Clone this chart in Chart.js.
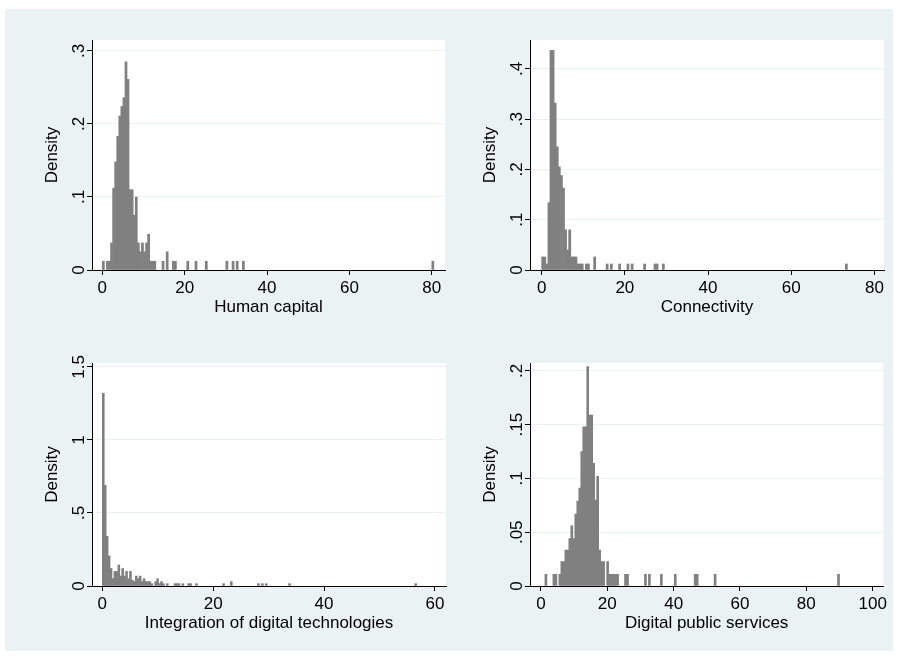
<!DOCTYPE html>
<html>
<head>
<meta charset="utf-8">
<script src="https://cdn.jsdelivr.net/npm/chart.js@4.4.0/dist/chart.umd.min.js"></script>
<style>
  body { margin: 0; background: #fff; }
  #frame { position: absolute; left: 5px; top: 9px; width: 888px; height: 642px; background: #eaf2f3; }
  canvas { position: absolute; }
</style>
</head>
<body>
<div id="frame"></div>
<canvas id="c1"></canvas>
<canvas id="c2"></canvas>
<canvas id="c3"></canvas>
<canvas id="c4"></canvas>
<script>
// Human capital (bin centers / density)
const humanCapitalBins = [0.25, 1.25, 1.75, 2.25, 2.75, 3.25, 3.75, 4.25, 4.75, 5.25,
  5.75, 6.25, 6.75, 7.25, 7.75, 8.25, 8.75, 9.25, 9.75, 10.25,
  10.75, 11.25, 11.75, 12.25, 12.75, 14.75, 15.75, 17.25, 17.75, 20.75,
  22.75, 25.25, 30.25, 31.75, 32.75, 34.25, 80.25];
const humanCapitalDensity = [0.012, 0.012, 0.012, 0.037, 0.112, 0.148, 0.183, 0.211, 0.224, 0.236,
  0.285, 0.261, 0.110, 0.110, 0.075, 0.100, 0.037, 0.025, 0.037, 0.025,
  0.037, 0.049, 0.012, 0.012, 0.012, 0.012, 0.025, 0.012, 0.012, 0.012,
  0.012, 0.012, 0.012, 0.012, 0.012, 0.012, 0.012];

// Connectivity
const connectivityBins = [0.25, 0.75, 1.25, 1.75, 2.25, 2.75, 3.25, 3.75, 4.25, 4.75,
  5.25, 5.75, 6.25, 6.75, 7.25, 7.75, 8.25, 8.75, 9.25, 9.75,
  10.75, 11.25, 12.75, 15.75, 16.75, 18.75, 20.75, 21.75, 24.75, 27.25,
  27.75, 29.25, 73.25];
const connectivityDensity = [0.026, 0.026, 0.012, 0.134, 0.437, 0.437, 0.332, 0.245, 0.205, 0.188,
  0.163, 0.080, 0.040, 0.080, 0.026, 0.026, 0.026, 0.012, 0.012, 0.012,
  0.012, 0.012, 0.026, 0.012, 0.012, 0.012, 0.012, 0.012, 0.012, 0.012,
  0.012, 0.012, 0.012];

// Integration of digital technologies
const integrationBins = [0.175, 0.525, 0.875, 1.225, 1.575, 1.925, 2.275, 2.625, 2.975, 3.325,
  3.675, 4.025, 4.375, 4.725, 5.075, 5.425, 5.775, 6.125, 6.475, 6.825,
  7.175, 7.525, 7.875, 8.225, 8.575, 8.925, 9.625, 9.975, 10.325, 10.675,
  11.025, 11.725, 13.125, 13.475, 13.825, 14.525, 15.575, 15.925, 16.975, 21.875,
  23.275, 28.175, 28.875, 29.575, 33.775, 56.525];
const integrationDensity = [1.32, 0.69, 0.34, 0.206, 0.12, 0.05, 0.1, 0.1, 0.144, 0.068,
  0.12, 0.068, 0.1, 0.05, 0.1, 0.04, 0.03, 0.068, 0.05, 0.068,
  0.03, 0.05, 0.03, 0.03, 0.03, 0.016, 0.03, 0.05, 0.016, 0.03,
  0.016, 0.016, 0.016, 0.016, 0.016, 0.016, 0.016, 0.016, 0.016, 0.016,
  0.03, 0.016, 0.016, 0.016, 0.016, 0.016];

// Digital public services
const publicServicesBins = [1.5, 3.9, 4.5, 5.7, 6.3, 6.9, 7.5, 8.1, 8.7, 9.3,
  9.9, 10.5, 11.1, 11.7, 12.3, 12.9, 13.5, 14.1, 14.7, 15.3,
  15.9, 16.5, 17.1, 17.7, 18.3, 18.9, 20.1, 20.7, 21.3, 21.9,
  22.5, 23.1, 25.5, 26.1, 31.5, 32.7, 36.3, 40.5, 46.5, 47.1,
  52.5, 89.7];
const publicServicesDensity = [0.0108, 0.0108, 0.0108, 0.0108, 0.0226, 0.0226, 0.0335, 0.0335, 0.044, 0.056,
  0.044, 0.067, 0.079, 0.091, 0.125, 0.148, 0.148, 0.204, 0.159, 0.159,
  0.114, 0.080, 0.102, 0.0335, 0.0226, 0.0226, 0.0226, 0.0108, 0.0108, 0.0108,
  0.0108, 0.0108, 0.0108, 0.0108, 0.0108, 0.0108, 0.0108, 0.0108, 0.0108, 0.0108,
  0.0108, 0.0108];

// tick values and labels
const humanCapitalTicksX = [0, 20, 40, 60, 80];
const humanCapitalTicksY = [0, 0.1, 0.2, 0.3];
const humanCapitalLabelsY = ['0', '.1', '.2', '.3'];
const connectivityTicksX = [0, 20, 40, 60, 80];
const connectivityTicksY = [0, 0.1, 0.2, 0.3, 0.4];
const connectivityLabelsY = ['0', '.1', '.2', '.3', '.4'];
const integrationTicksX = [0, 20, 40, 60];
const integrationTicksY = [0, 0.5, 1, 1.5];
const integrationLabelsY = ['0', '.5', '1', '1.5'];
const publicServicesTicksX = [0, 20, 40, 60, 80, 100];
const publicServicesTicksY = [0, 0.05, 0.1, 0.15, 0.2];
const publicServicesLabelsY = ['0', '.05', '.1', '.15', '.2'];

const FONT = '"Liberation Sans", Arial, sans-serif';
const BAR = '#808080';
const GRID = '#eaf2f3';

// plot rectangles [left, top, right, bottom] and axis ranges
const panels = [
  { id: 'c1', xTitle: 'Human capital', bins: humanCapitalBins, dens: humanCapitalDensity,
    ticksX: humanCapitalTicksX, ticksY: humanCapitalTicksY, labelsY: humanCapitalLabelsY,
    xMin: -2.5, xMax: 83.2, yMax: 0.315, plot: [92, 40, 445, 270] },
  { id: 'c2', xTitle: 'Connectivity', bins: connectivityBins, dens: connectivityDensity,
    ticksX: connectivityTicksX, ticksY: connectivityTicksY, labelsY: connectivityLabelsY,
    xMin: -2.8, xMax: 82.3, yMax: 0.4577, plot: [530, 40, 884, 270] },
  { id: 'c3', xTitle: 'Integration of digital technologies', bins: integrationBins, dens: integrationDensity,
    ticksX: integrationTicksX, ticksY: integrationTicksY, labelsY: integrationLabelsY,
    xMin: -1.86, xMax: 62.0, yMax: 1.527, plot: [92, 363, 446, 586] },
  { id: 'c4', xTitle: 'Digital public services', bins: publicServicesBins, dens: publicServicesDensity,
    ticksX: publicServicesTicksX, ticksY: publicServicesTicksY, labelsY: publicServicesLabelsY,
    xMin: -3.3, xMax: 103.2, yMax: 0.2074, plot: [530, 363, 885, 586] }
];

const Y_AXIS_W = 50, X_AXIS_H = 48, PAD_L = 32, PAD_T = 20, PAD_R = 5, PAD_B = 3;

// white plot region behind the bars
const plotBgPlugin = {
  id: 'plotBg',
  beforeDraw(chart) {
    const { ctx, chartArea: a } = chart;
    ctx.save();
    ctx.fillStyle = '#fff';
    ctx.fillRect(a.left, a.top, a.right - a.left, a.bottom - a.top);
    ctx.restore();
  }
};

// rotated y tick labels, Stata style
const yLabelPlugin = {
  id: 'yLabels',
  afterDraw(chart, args, opts) {
    const ctx = chart.ctx;
    const y = chart.scales.y;
    const left = chart.chartArea.left;
    ctx.save();
    ctx.font = '17px ' + FONT;
    ctx.fillStyle = '#000';
    ctx.textAlign = 'center';
    ctx.textBaseline = 'alphabetic';
    opts.values.forEach((v, i) => {
      ctx.save();
      ctx.translate(left - 8, y.getPixelForValue(v));
      ctx.rotate(-Math.PI / 2);
      ctx.fillText(opts.labels[i], 0, 0);
      ctx.restore();
    });
    ctx.restore();
  }
};

panels.forEach(p => {
  const [L, T, R, B] = p.plot;
  const canvas = document.getElementById(p.id);
  canvas.width = R - L + Y_AXIS_W + PAD_L + PAD_R;
  canvas.height = B - T + PAD_T + X_AXIS_H + PAD_B;
  canvas.style.left = (L - Y_AXIS_W - PAD_L) + 'px';
  canvas.style.top = (T - PAD_T) + 'px';

  new Chart(canvas.getContext('2d'), {
    type: 'bar',
    data: {
      datasets: [{
        data: p.bins.map((x, i) => ({ x: x, y: p.dens[i] })),
        backgroundColor: BAR,
        borderWidth: 0,
        barPercentage: 1,
        categoryPercentage: 1
      }]
    },
    options: {
      responsive: false,
      animation: false,
      devicePixelRatio: 1,
      layout: { padding: { left: PAD_L, top: PAD_T, right: PAD_R, bottom: PAD_B } },
      plugins: {
        legend: { display: false },
        tooltip: { enabled: false },
        yLabels: { values: p.ticksY, labels: p.labelsY }
      },
      scales: {
        x: {
          type: 'linear',
          min: p.xMin,
          max: p.xMax,
          offset: false,
          afterBuildTicks: s => { s.ticks = p.ticksX.map(v => ({ value: v })); },
          afterFit: s => { s.height = X_AXIS_H; },
          grid: { display: true, offset: false, drawOnChartArea: false, drawTicks: true,
                  tickLength: 5, tickColor: '#000', color: '#000' },
          border: { display: true, color: '#000', width: 1 },
          ticks: { color: '#000', font: { family: FONT, size: 17 }, padding: 3,
                   maxRotation: 0, callback: v => String(v) },
          title: { display: true, text: p.xTitle, color: '#000',
                   font: { family: FONT, size: 17 }, padding: 0 }
        },
        y: {
          type: 'linear',
          min: 0,
          max: p.yMax,
          afterBuildTicks: s => { s.ticks = p.ticksY.map(v => ({ value: v })); },
          afterFit: s => { s.width = Y_AXIS_W; },
          grid: { display: true, color: GRID, lineWidth: 1, drawTicks: true,
                  tickLength: 5, tickColor: '#000' },
          border: { display: true, color: '#000', width: 1 },
          ticks: { display: false },
          title: { display: true, text: 'Density', color: '#000',
                   font: { family: FONT, size: 17 }, padding: 0 }
        }
      }
    },
    plugins: [plotBgPlugin, yLabelPlugin]
  });
});
</script>
</body>
</html>
